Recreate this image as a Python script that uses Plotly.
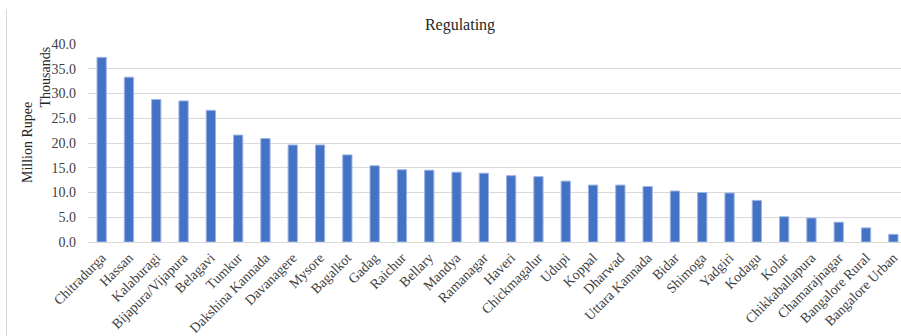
import plotly.graph_objects as go

districts = [
    "Chitradurga", "Hassan", "Kalaburagi", "Bijapura/Vijapura", "Belagavi",
    "Tumkur", "Dakshina Kannada", "Davanagere", "Mysore", "Bagalkot",
    "Gadag", "Raichur", "Bellary", "Mandya", "Ramanagar",
    "Haveri", "Chickmagalur", "Udupi", "Koppal", "Dharwad",
    "Uttara Kannada", "Bidar", "Shimoga", "Yadgiri", "Kodagu",
    "Kolar", "Chikkaballapura", "Chamarajnagar", "Bangalore Rural", "Bangalore Urban",
]
# Regulating services value, thousand million rupees
values = [
    37.3, 33.3, 28.8, 28.5, 26.6,
    21.6, 20.9, 19.6, 19.6, 17.6,
    15.4, 14.6, 14.5, 14.1, 13.9,
    13.4, 13.2, 12.3, 11.5, 11.5,
    11.2, 10.3, 10.0, 9.9, 8.4,
    5.1, 4.85, 4.0, 2.85, 1.55,
]
y_ticks = [0, 5, 10, 15, 20, 25, 30, 35, 40]

FONT = "Liberation Serif"
TXT = "#404040"
GRID = "#D9D9D9"

W, H = 901, 336
L, T, B = 88, 44, 94
plot_w = W - L
plot_h = H - T - B
cat_px = 27.3
x_hi = -0.5 + plot_w / cat_px

fig = go.Figure(
    go.Bar(
        x=list(range(len(districts))),
        y=values,
        marker=dict(color="#4472C4", line=dict(color="#9DB5E3", width=1)),
        width=0.34,
    )
)


def px_x(px):
    return (px - L) / plot_w


def px_y(py):
    return (H - B - py) / plot_h


fig.update_layout(
    width=W,
    height=H,
    margin=dict(l=L, r=0, t=T, b=B, pad=0, autoexpand=False),
    paper_bgcolor="white",
    plot_bgcolor="white",
    showlegend=False,
    font=dict(family=FONT, size=14, color=TXT),
    title=dict(
        text="Regulating",
        font=dict(family=FONT, size=16, color="#262626"),
        x=460 / W,
        xanchor="center",
        xref="container",
        y=1 - 24 / H,
        yanchor="middle",
    ),
    xaxis=dict(
        range=[-0.5, x_hi],
        tickmode="array",
        tickvals=list(range(len(districts))),
        ticktext=districts,
        tickangle=-45,
        showgrid=False,
        showline=True,
        linecolor=GRID,
        linewidth=1,
        ticks="",
        ticklabelstandoff=1,
        ticklabelshift=0,
        ticklabeloverflow="allow",
        automargin=False,
        tickfont=dict(family=FONT, size=14, color=TXT),
        fixedrange=True,
    ),
    yaxis=dict(
        range=[0, 40],
        tickmode="array",
        tickvals=y_ticks,
        ticktext=[f"{v:.1f}" for v in y_ticks],
        showgrid=True,
        gridcolor=GRID,
        gridwidth=1,
        zeroline=False,
        showline=False,
        ticks="",
        ticklabelstandoff=11,
        automargin=False,
        tickfont=dict(family=FONT, size=14, color=TXT),
        fixedrange=True,
    ),
    annotations=[
        dict(
            text="Thousands", xref="paper", yref="paper",
            x=px_x(44.5), y=px_y(77), textangle=-90,
            showarrow=False, xanchor="center", yanchor="middle",
            font=dict(family=FONT, size=14, color="#262626"),
        ),
        dict(
            text="Million Rupee", xref="paper", yref="paper",
            x=px_x(27), y=px_y(143), textangle=-90,
            showarrow=False, xanchor="center", yanchor="middle",
            font=dict(family=FONT, size=14, color="#262626"),
        ),
    ],
    shapes=[
        dict(
            type="line", xref="paper", yref="paper",
            x0=px_x(6.5), x1=px_x(6.5), y0=px_y(9), y1=px_y(H + 2),
            line=dict(color=GRID, width=1),
        )
    ],
)

fig.write_html("out.html")
